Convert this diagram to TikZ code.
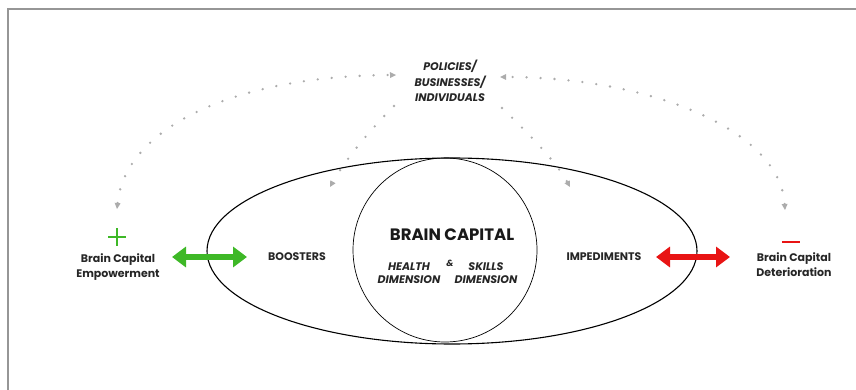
\documentclass[tikz,border=0pt]{standalone}
\usepackage{fontspec}
\setmainfont{Poppins}
\usetikzlibrary{arrows.meta,shapes.geometric}
\definecolor{bgreen}{RGB}{62,184,39}
\definecolor{bred}{RGB}{232,20,20}
\definecolor{dotgray}{RGB}{172,172,172}
\definecolor{framegray}{RGB}{150,150,150}
\tikzset{
  lbl/.style={font=\fontsize{11}{15}\selectfont\bfseries, align=center, inner sep=0pt, text=black!85},
  ilbl/.style={font=\fontsize{11}{15.5}\selectfont\bfseries\itshape, align=center, inner sep=0pt, text=black!85},
  bigarrow/.style={line width=5.5pt, {Triangle[length=14pt,width=20pt]}-{Triangle[length=14pt,width=20pt]}},
  dotline/.style={dotgray, line width=2.6pt, line cap=round, dash pattern=on 0pt off 14pt},
  dothead/.style={-{Triangle[length=6pt,width=6pt,line width=0pt]}},
  dotheads/.style={{Triangle[length=6pt,width=6pt,line width=0pt]}-{Triangle[length=6pt,width=6pt,line width=0pt]}},
}
\begin{document}
\begin{tikzpicture}[x=1pt,y=-1pt]
\useasboundingbox (0,0) rectangle (856,390);
% frame
\draw[framegray, line width=1.3pt] (8,390) -- (8,9) -- (856,9);
% ellipse and circle
\node[draw, ellipse, line width=1.1pt, minimum width=490pt, minimum height=186pt, inner sep=0pt] (outer) at (452,251) {};
\node[draw, circle, line width=0.7pt, minimum size=184pt, inner sep=0pt] (inner) at (445,250) {};
% texts
\node[ilbl] (pol) at (450,81) {POLICIES/\\BUSINESSES/\\INDIVIDUALS};
\node[font=\fontsize{16.5}{18}\selectfont\bfseries, inner sep=0pt, text=black!90] (bc) at (452,235) {BRAIN CAPITAL};
\node[ilbl, font=\fontsize{11}{13}\selectfont\bfseries\itshape] (health) at (409,273) {HEALTH\\DIMENSION};
\node[ilbl, font=\fontsize{9}{10}\selectfont\bfseries\itshape] (amp) at (450,263) {\&};
\node[ilbl, font=\fontsize{11}{13}\selectfont\bfseries\itshape] (skills) at (486,273) {SKILLS\\DIMENSION};
\node[lbl] (boost) at (297,257) {BOOSTERS};
\node[lbl] (imped) at (604,257) {IMPEDIMENTS};
\node[lbl] (emp) at (118,267) {Brain Capital\\Empowerment};
\node[lbl] (det) at (794,265) {Brain Capital\\Deterioration};
% plus / minus
\node[inner sep=0pt, minimum size=17pt] (plus) at (117,237) {};
\draw[bgreen, line width=1.4pt] (plus.west) -- (plus.east) (plus.north) -- (plus.south);
\node[inner sep=0pt, minimum width=18pt, minimum height=2pt] (minus) at (791,242) {};
\draw[bred, line width=1.8pt] (minus.west) -- (minus.east);
% thick arrows
\coordinate (gL) at (172,257);
\coordinate (gR) at (247,257);
\coordinate (rL) at (656,257);
\coordinate (rR) at (730,257);
\draw[bigarrow, bgreen] (gL) -- (gR);
\draw[bigarrow, bred] (rL) -- (rR);
% dotted connectors
\coordinate (p1) at (396,75);
\coordinate (e1) at (117,209);
\coordinate (p2) at (500,77);
\coordinate (e2) at (785,210);
\coordinate (p3) at (394,106);
\coordinate (b3) at (330,187);
\coordinate (p4) at (502,108);
\coordinate (b4) at (570,187);
\draw[dotline, dotheads] (e1) .. controls (125,130) and (230,76) .. (p1);
\draw[dotline, dotheads] (e2) .. controls (780,130) and (650,77) .. (p2);
\draw[dotline, dothead] (p3) .. controls (370,130) and (345,160) .. (b3);
\draw[dotline, dothead] (p4) .. controls (525,130) and (555,160) .. (b4);
\end{tikzpicture}
\end{document}
